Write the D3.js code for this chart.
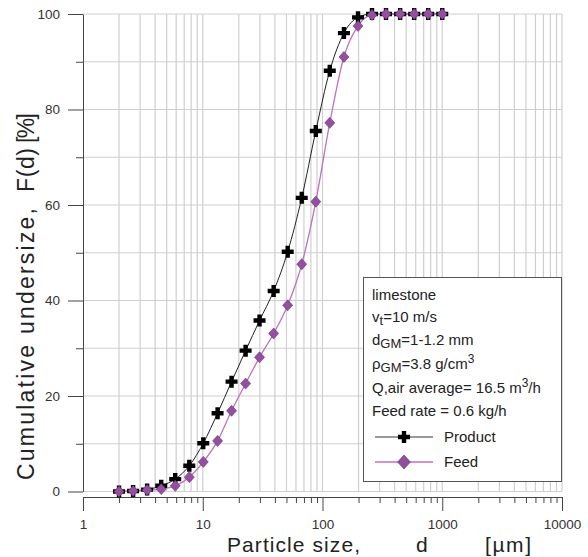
<!DOCTYPE html>
<html>
<head>
<meta charset="utf-8">
<script src="https://cdn.jsdelivr.net/npm/d3@7"></script>
<style>
  html, body { margin: 0; padding: 0; background: #fff; }
  svg { display: block; font-family: "Liberation Sans", Arial, sans-serif; }
</style>
</head>
<body>
<svg id="chart" width="588" height="557"></svg>
<script>
// ---- data ----
const sizes = [2, 2.62, 3.43, 4.5, 5.89, 7.72, 10.1, 13.3, 17.4, 22.8, 29.8, 39.1, 51.2, 67.1, 87.9, 115, 151, 198, 259, 339, 445, 583, 763, 1000];
const product = [0, 0.1, 0.4, 1.2, 2.6, 5.4, 10.1, 16.4, 23.0, 29.5, 35.8, 42.0, 50.2, 61.5, 75.5, 88.1, 96.0, 99.3, 100, 100, 100, 100, 100, 100];
const feed = [0, 0.1, 0.3, 0.5, 1.2, 3.0, 6.2, 10.6, 16.9, 22.6, 28.1, 33.1, 39.0, 47.6, 60.7, 77.2, 91.0, 97.5, 99.8, 100, 100, 100, 100, 100];
const xMajorTicks = [1, 10, 100, 1000, 10000];
const yMajorTicks = [0, 20, 40, 60, 80, 100];
const yMinorTicks = [10, 30, 50, 70, 90];

const svg = d3.select("#chart");
const L = 83, R = 562, T = 14, B = 491.5, XAXIS = 497;
const x = d3.scaleLog().domain([1, 10000]).range([L, R]);
const y = d3.scaleLinear().domain([0, 100]).range([B, T]);

// minor x values (2..9 per decade)
const xAll = [];
for (let e = 0; e < 4; e++) for (let m = 1; m <= 9; m++) xAll.push(m * Math.pow(10, e));
xAll.push(10000);
const xMinor = xAll.filter(v => !xMajorTicks.includes(v));

// grid
const grid = svg.append("g").attr("stroke", "#cfcfcf").attr("stroke-width", 1.2);
grid.selectAll("line.v").data(xAll.filter(v => v > 1)).join("line")
  .attr("x1", d => x(d)).attr("x2", d => x(d)).attr("y1", T).attr("y2", B);
grid.selectAll("line.h").data(d3.range(0, 101, 10)).join("line")
  .attr("x1", L).attr("x2", R).attr("y1", d => y(d)).attr("y2", d => y(d));

// y axis
const yAx = svg.append("g").attr("transform", `translate(${L},0)`)
  .call(d3.axisLeft(y).tickValues(yMajorTicks).tickSize(15).tickSizeOuter(0).tickPadding(8));
yAx.select(".domain").attr("stroke", "#444");
yAx.selectAll(".tick line").attr("stroke", "#444");
yAx.selectAll(".tick text").attr("font-size", 13.5).attr("fill", "#333")
  .attr("font-family", "Liberation Sans, Arial, sans-serif");
const yAxm = svg.append("g").attr("transform", `translate(${L},0)`)
  .call(d3.axisLeft(y).tickValues(yMinorTicks).tickSize(7).tickFormat(""));
yAxm.select(".domain").remove();
yAxm.selectAll(".tick line").attr("stroke", "#444");

// x axis
const xAx = svg.append("g").attr("transform", `translate(0,${XAXIS})`)
  .call(d3.axisBottom(x).tickValues(xMajorTicks).tickFormat(d3.format("d")).tickSize(14).tickSizeOuter(0).tickPadding(8));
xAx.select(".domain").attr("stroke", "#444");
xAx.selectAll(".tick line").attr("stroke", "#444");
xAx.selectAll(".tick text").attr("font-size", 13.5).attr("fill", "#333")
  .attr("font-family", "Liberation Sans, Arial, sans-serif");
const xAxm = svg.append("g").attr("transform", `translate(0,${XAXIS})`)
  .call(d3.axisBottom(x).tickValues(xMinor).tickSize(6).tickFormat(""));
xAxm.select(".domain").remove();
xAxm.selectAll(".tick line").attr("stroke", "#444");

// axis titles
const xt = svg.append("text").attr("y", 552).attr("font-size", 21).attr("fill", "#222");
xt.append("tspan").attr("x", 227).attr("textLength", 133).attr("lengthAdjust", "spacing").text("Particle size,");
xt.append("tspan").attr("x", 416).text("d");
xt.append("tspan").attr("x", 485).attr("textLength", 46).attr("lengthAdjust", "spacing").text("[µm]");

const yt = svg.append("text").attr("transform", "translate(34,0) rotate(-90)")
  .attr("font-size", 23).attr("fill", "#222");
yt.append("tspan").attr("x", -480).attr("textLength", 272).attr("lengthAdjust", "spacing").text("Cumulative undersize,");
yt.append("tspan").attr("x", -192).attr("textLength", 44).attr("lengthAdjust", "spacing").text("F(d)");
yt.append("tspan").attr("x", -143).attr("textLength", 30).attr("lengthAdjust", "spacing").text("[%]");

// lines
const prodColor = "#222", feedLine = "#c070c4", feedFill = "#93509e", feedStroke = "#6c2f79";
const line = d3.line().curve(d3.curveMonotoneX).x(d => x(d[0])).y(d => y(d[1]));
const prodPts = sizes.map((s, i) => [s, product[i]]);
const feedPts = sizes.map((s, i) => [s, feed[i]]);
svg.append("path").attr("d", line(prodPts)).attr("fill", "none").attr("stroke", prodColor).attr("stroke-width", 1);
svg.append("path").attr("d", line(feedPts)).attr("fill", "none").attr("stroke", feedLine).attr("stroke-width", 1.3);

const plusPath = "M-2.2,-6H2.2V-2.2H6V2.2H2.2V6H-2.2V2.2H-6V-2.2H-2.2Z";
const diamondPath = "M0,-5.5L5,0L0,5.5L-5,0Z";
svg.append("g").selectAll("path").data(prodPts).join("path")
  .attr("transform", d => `translate(${x(d[0])},${y(d[1])})`)
  .attr("d", plusPath).attr("fill", "#000");
svg.append("g").selectAll("path").data(feedPts).join("path")
  .attr("transform", d => `translate(${x(d[0])},${y(d[1])})`)
  .attr("d", diamondPath).attr("fill", feedFill).attr("stroke", feedStroke).attr("stroke-width", 0.6);

// legend box
const lg = svg.append("g");
lg.append("rect").attr("x", 363.5).attr("y", 277.5).attr("width", 198).attr("height", 204)
  .attr("fill", "#fff").attr("stroke", "#555").attr("stroke-width", 1);
const fs = 15;
function addText(xx, yy, parts) {
  const t = lg.append("text").attr("x", xx).attr("y", yy).attr("font-size", fs).attr("fill", "#222");
  parts.forEach(p => {
    const ts = t.append("tspan").text(p.t);
    if (p.sub) ts.attr("font-size", 13).attr("dy", 3);
    if (p.sup) ts.attr("font-size", 12).attr("dy", -6);
    if (p.back) ts.attr("dy", p.back);
  });
  return t;
}
addText(372, 300, [{t: "limestone"}]);
addText(372, 322, [{t: "v"}, {t: "t", sub: true}, {t: "=10 m/s", back: -3}]);
addText(372, 345, [{t: "d"}, {t: "GM", sub: true}, {t: "=1-1.2 mm", back: -3}]);
addText(372, 369, [{t: "ρ"}, {t: "GM", sub: true}, {t: "=3.8 g/cm", back: -3}, {t: "3", sup: true}]);
addText(372, 393, [{t: "Q,air average= 16.5 m"}, {t: "3", sup: true}, {t: "/h", back: 6}]);
addText(372, 416, [{t: "Feed rate = 0.6 kg/h"}]);
addText(444, 442, [{t: "Product"}]);
addText(444, 467, [{t: "Feed"}]);

lg.append("line").attr("x1", 375).attr("x2", 433).attr("y1", 437).attr("y2", 437).attr("stroke", "#333").attr("stroke-width", 1);
lg.append("path").attr("transform", "translate(404,437)").attr("d", plusPath).attr("fill", "#000");
lg.append("line").attr("x1", 375).attr("x2", 433).attr("y1", 462).attr("y2", 462).attr("stroke", feedLine).attr("stroke-width", 1.3);
lg.append("path").attr("transform", "translate(404,462)").attr("d", "M0,-7L6.5,0L0,7L-6.5,0Z")
  .attr("fill", feedFill).attr("stroke", feedStroke).attr("stroke-width", 0.6);
</script>
</body>
</html>
